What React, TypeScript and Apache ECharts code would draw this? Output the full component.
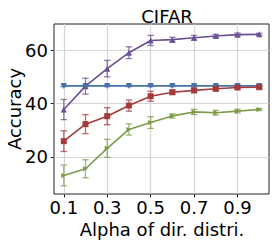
import React, { useEffect, useRef } from "react";
import * as echarts from "echarts";

const alphas = [0.1, 0.2, 0.3, 0.4, 0.5, 0.6, 0.7, 0.8, 0.9, 1.0];
const xTicks = [0.1, 0.3, 0.5, 0.7, 0.9];
const yTicks = [20, 40, 60];

const purpleMean = [37.8, 46.6, 53.2, 59.2, 63.8, 64.1, 64.8, 65.5, 66.0, 66.1];
const purpleErr = [3.8, 3.0, 3.1, 2.2, 1.9, 0.9, 0.9, 0.6, 0.6, 0.4];
const blueMean = [46.7, 46.7, 46.7, 46.7, 46.7, 46.7, 46.7, 46.7, 46.7, 46.7];
const blueErr = [0.3, 0.3, 0.3, 0.3, 0.3, 0.3, 0.3, 0.3, 0.3, 0.3];
const redMean = [25.9, 32.3, 35.3, 39.3, 42.8, 44.3, 45.0, 45.6, 46.1, 46.2];
const redErr = [3.9, 3.6, 3.2, 2.1, 1.9, 0.8, 0.8, 0.7, 0.6, 0.5];
const greenMean = [13.0, 15.5, 23.2, 30.3, 32.9, 35.4, 36.9, 36.6, 37.2, 37.8];
const greenErr = [3.9, 3.4, 3.4, 2.1, 2.2, 0.8, 1.0, 0.9, 0.7, 0.4];

const FONT = "'DejaVu Sans', sans-serif";

function lineSeries(name: string, mean: number[], color: string, symbol: string, size: number, rotate = 0) {
  return {
    name,
    type: "line",
    data: alphas.map((a, i) => [a, mean[i]]),
    symbol,
    symbolSize: size,
    symbolRotate: rotate,
    itemStyle: { color },
    lineStyle: { color, width: 1.6 },
    z: 3,
  };
}

function errSeries(name: string, mean: number[], err: number[], color: string) {
  return {
    name: name + "-err",
    type: "custom",
    data: alphas.map((a, i) => [a, mean[i] - err[i], mean[i] + err[i]]),
    renderItem: (params: any, api: any) => {
      const x = api.value(0);
      const p1 = api.coord([x, api.value(1)]);
      const p2 = api.coord([x, api.value(2)]);
      const st = { stroke: color, lineWidth: 1.3 };
      const w = 3.2;
      return {
        type: "group",
        children: [
          { type: "line", shape: { x1: p1[0], y1: p1[1], x2: p2[0], y2: p2[1] }, style: st },
          { type: "line", shape: { x1: p1[0] - w, y1: p1[1], x2: p1[0] + w, y2: p1[1] }, style: st },
          { type: "line", shape: { x1: p2[0] - w, y1: p2[1], x2: p2[0] + w, y2: p2[1] }, style: st },
        ],
      };
    },
    z: 2,
  };
}

export default function App() {
  const ref = useRef<HTMLDivElement>(null);
  useEffect(() => {
    const chart = echarts.init(ref.current!, null, { renderer: "svg" });
    const purple = "#6a4f92";
    const blue = "#4571a8";
    const red = "#a53a3b";
    const green = "#7c9b48";
    chart.setOption({
      animation: false,
      textStyle: { fontFamily: FONT },
      title: {
        text: "CIFAR",
        left: 162,
        textAlign: "center",
        top: 2,
        textStyle: { fontFamily: FONT, fontSize: 18, fontWeight: "normal", color: "#000" },
      },
      graphic: [
        {
          type: "text",
          x: 162,
          y: 229,
          style: {
            text: "Alpha of dir. distri.",
            fontFamily: FONT,
            fontSize: 18,
            fill: "#000",
            textAlign: "center",
            textVerticalAlign: "middle",
          },
        },
        {
          type: "text",
          x: 14,
          y: 109,
          rotation: Math.PI / 2,
          style: {
            text: "Accuracy",
            fontFamily: FONT,
            fontSize: 18,
            fill: "#000",
            textAlign: "center",
            textVerticalAlign: "middle",
          },
        },
      ],
      grid: {
        left: 54,
        right: 5,
        top: 24,
        bottom: 50,
        show: true,
        borderColor: "#222",
        borderWidth: 1,
        backgroundColor: "transparent",
      },
      xAxis: {
        type: "value",
        min: 0.055,
        max: 1.045,
        axisLine: { show: false },
        axisTick: { show: true, customValues: xTicks, length: 3.5, lineStyle: { color: "#222" } },
        axisLabel: {
          customValues: xTicks,
          fontFamily: FONT,
          fontSize: 18,
          color: "#000",
          margin: 4,
          formatter: (v: number) => v.toFixed(1),
        },
        splitLine: { show: true, lineStyle: { color: "#d6d6d6", width: 1.2 } },
      },
      yAxis: {
        type: "value",
        min: 6,
        max: 70,
        axisLine: { show: false },
        axisTick: { show: true, customValues: yTicks, length: 3.5, lineStyle: { color: "#222" } },
        axisLabel: {
          customValues: yTicks,
          fontFamily: FONT,
          fontSize: 18,
          color: "#000",
          margin: 6,
        },
        splitLine: { show: true, lineStyle: { color: "#d6d6d6", width: 1.2 } },
      },
      series: [
        errSeries("purple", purpleMean, purpleErr, "rgba(106,79,146,0.75)"),
        errSeries("blue", blueMean, blueErr, "rgba(69,113,168,0.75)"),
        errSeries("red", redMean, redErr, "rgba(165,58,59,0.75)"),
        errSeries("green", greenMean, greenErr, "rgba(124,155,72,0.75)"),
        lineSeries("purple", purpleMean, purple, "triangle", 6),
        lineSeries("blue", blueMean, blue, "triangle", 6, 180),
        lineSeries("red", redMean, red, "rect", 6),
        lineSeries("green", greenMean, green, "triangle", 5, -90),
      ],
    });
    return () => chart.dispose();
  }, []);
  return (
    <div
      ref={ref}
      style={{ position: "absolute", left: 0, top: 0, width: 274, height: 244 }}
    />
  );
}
